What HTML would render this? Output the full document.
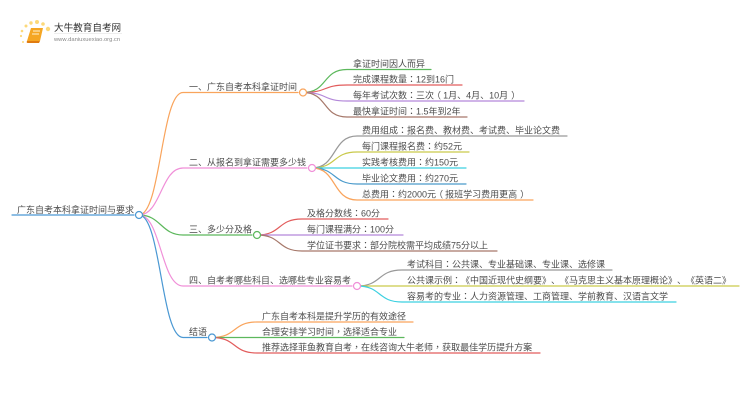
<!DOCTYPE html>
<html><head><meta charset="utf-8"><style>
html,body{margin:0;padding:0;background:#fff}
svg{display:block}
text{font-family:"Liberation Sans","Noto Sans CJK SC",sans-serif;font-size:9px;fill:#4c4c4c;text-spacing-trim:space-all;font-kerning:none}
.t{font-family:"Liberation Sans","Noto Sans CJK TC",sans-serif}
</style></head><body>
<svg width="750" height="410" viewBox="0 0 750 410" xmlns="http://www.w3.org/2000/svg">
<defs><filter id="b" x="-5%" y="-5%" width="110%" height="110%"><feGaussianBlur stdDeviation="0.25"/></filter></defs>
<g fill="none" stroke-width="1.2" stroke-linecap="round">
<path d="M12 215H134" stroke="#4a98d3"/>
<path d="M139 215C161 215 161 92.500 183 92.500H298" stroke="#f9a45c"/>
<path d="M139 215C161 215 161 168 183 168H307" stroke="#f08fd8"/>
<path d="M139 215C161 215 161 235 183 235H252" stroke="#5cb85c"/>
<path d="M139 215C161 215 161 286 183 286H352" stroke="#f08fd8"/>
<path d="M139 215C161 215 161 337.500 183 337.500H207" stroke="#4a98d3"/>
<path d="M303 92.500C328 92.500 322 69.500 347 69.500H431" stroke="#5cb85c"/>
<path d="M303 92.500C328 92.500 322 85 347 85H462" stroke="#e25c5c"/>
<path d="M303 92.500C328 92.500 322 101 347 101H524" stroke="#b388d9"/>
<path d="M303 92.500C328 92.500 322 117 347 117H467" stroke="#a6786a"/>
<path d="M312 168C337 168 332 136 357 136H567" stroke="#999"/>
<path d="M312 168C337 168 332 152 357 152H469" stroke="#c9c94a"/>
<path d="M312 168H466" stroke="#3cd0e0"/>
<path d="M312 168C337 168 332 184 357 184H466" stroke="#4a9acb"/>
<path d="M312 168C337 168 332 200 357 200H533" stroke="#f9a45c"/>
<path d="M257 235C282 235 277 219 302 219H388" stroke="#e25c5c"/>
<path d="M257 235H403" stroke="#b388d9"/>
<path d="M257 235C282 235 277 251 302 251H497" stroke="#a6786a"/>
<path d="M357 286C382 286 377 270 402 270H612" stroke="#999"/>
<path d="M357 286H739" stroke="#c9c94a"/>
<path d="M357 286C382 286 377 302 402 302H676" stroke="#3cd0e0"/>
<path d="M212 337.500C237 337.500 232 322 257 322H413" stroke="#f9a45c"/>
<path d="M212 337.500H404" stroke="#5cb85c"/>
<path d="M212 337.500C237 337.500 232 353 257 353H540" stroke="#e25c5c"/>
</g>
<g fill="#fff" stroke-width="1.2">
<circle cx="139" cy="215" r="3.5" stroke="#4a98d3"/>
<circle cx="303" cy="92.500" r="3.5" stroke="#f9a45c"/>
<circle cx="312" cy="168" r="3.5" stroke="#f08fd8"/>
<circle cx="257" cy="235" r="3.5" stroke="#5cb85c"/>
<circle cx="357" cy="286" r="3.5" stroke="#f08fd8"/>
<circle cx="212" cy="337.500" r="3.5" stroke="#4a98d3"/>
</g>
<g filter="url(#b)">
<text x="17" y="213">广东自考本科拿证时间与要求</text>
<text x="189" y="90">一、广东自考本科拿证时间</text>
<text x="189" y="165.500">二、从报名到拿证需要多少钱</text>
<text x="189" y="232.500">三、多少分及格</text>
<text x="189" y="283.500">四、自考考哪些科目、选哪些专业容易考</text>
<text x="189" y="335">结语</text>
<text x="353" y="67">拿证时间因人而异</text>
<text x="353" y="82.500">完成课程数量<tspan class="t">：</tspan>12到16门</text>
<text x="353" y="98.500">每年考试次数<tspan class="t">：</tspan>三次<tspan dx="-2">（</tspan><tspan dx="2">1</tspan>月、4月、10月<tspan dx="3">）</tspan></text>
<text x="353" y="114.500">最快拿证时间<tspan class="t">：</tspan>1.5年到2年</text>
<text x="362" y="133.500">费用组成<tspan class="t">：</tspan>报名费、教材费、考试费、毕业论文费</text>
<text x="362" y="149.500">每门课程报名费<tspan class="t">：</tspan>约52元</text>
<text x="362" y="165.500">实践考核费用<tspan class="t">：</tspan>约150元</text>
<text x="362" y="181.500">毕业论文费用<tspan class="t">：</tspan>约270元</text>
<text x="362" y="197.500">总费用<tspan class="t">：</tspan>约2000元<tspan dx="-2">（</tspan><tspan dx="2">报</tspan>班学习费用更高<tspan dx="3">）</tspan></text>
<text x="307" y="216.500">及格分数线<tspan class="t">：</tspan>60分</text>
<text x="307" y="232.500">每门课程满分<tspan class="t">：</tspan>100分</text>
<text x="307" y="248.500">学位证书要求<tspan class="t">：</tspan>部分院校需平均成绩75分以上</text>
<text x="407" y="267.500">考试科目<tspan class="t">：</tspan>公共课、专业基础课、专业课、选修课</text>
<text x="407" y="283.500">公共课示例<tspan class="t">：</tspan>《中国近现代史纲要》、《马克思主义基本原理概论》、《英语二》</text>
<text x="407" y="299.500">容易考的专业<tspan class="t">：</tspan>人力资源管理、工商管理、学前教育、汉语言文学</text>
<text x="262" y="319.500">广东自考本科是提升学历的有效途径</text>
<text x="262" y="335">合理安排学习时间<tspan class="t">，</tspan>选择适合专业</text>
<text x="262" y="350.500">推荐选择菲鱼教育自考<tspan class="t">，</tspan>在线咨询大牛老师<tspan class="t">，</tspan>获取最佳学历提升方案</text>
</g>
<g fill="#fcd97a">
<circle cx="37" cy="22" r="2"/><circle cx="31" cy="23" r="1.7"/><circle cx="43" cy="24" r="1.8"/><circle cx="48" cy="29" r="2.2"/><circle cx="26" cy="26" r="1.5"/><circle cx="22" cy="31" r="1.3"/><circle cx="21" cy="36" r="1.1"/><circle cx="23" cy="42" r="1"/>
</g>
<path d="M31 28H43L40 41H27Z" fill="#f5a623"/>
<path d="M27 41H40L39 43H28Q26 43 27 41Z" fill="#e07b10"/>
<path d="M33 31H40M32 34H39" stroke="#fff3d0" stroke-width="1"/>
<text x="54" y="31" style="font-size:9.600px;fill:#333">大牛教育自考网</text>
<path d="M54 33.500H122" stroke="#ddd" stroke-width="0.6"/>
<text x="54" y="41" style="font-size:5.800px;fill:#888">www.daniuxuexiao.org.cn</text>
</svg>
</body></html>
